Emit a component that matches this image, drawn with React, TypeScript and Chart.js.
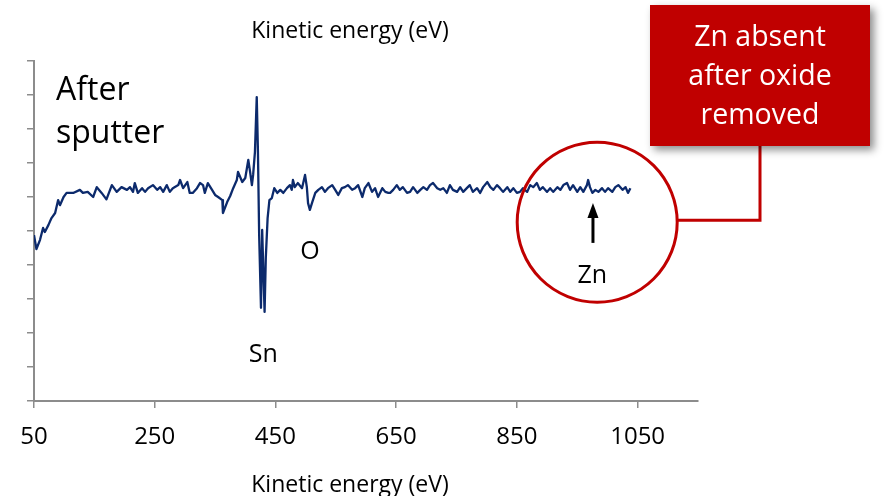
import { useEffect, useRef } from 'react';
import { Chart, registerables } from 'chart.js';

Chart.register(...registerables);

// Kinetic energy (eV)
const energy = [
  50, 54, 60, 65, 68, 74, 79, 85, 90, 93, 99, 104, 115, 126, 131, 139, 148, 154, 162, 170, 179, 187, 195, 204,
  209, 214, 217, 222, 229, 234, 239, 247, 254, 259, 264, 270, 275, 280, 289, 292, 297, 304, 308, 313, 320, 325,
  330, 333, 338, 345, 350, 355, 362, 363, 370, 375, 380, 386, 388, 395, 400, 405, 408, 411, 413, 416, 419, 421,
  423, 426, 428, 430, 432, 434, 437, 440, 444, 448, 453, 458, 463, 469, 474, 477, 479, 482, 487, 494, 499, 502,
  504, 507, 511, 516, 521, 527, 532, 537, 544, 549, 554, 560, 565, 570, 577, 582, 587, 594, 598, 604, 610, 615,
  620, 627, 632, 637, 640, 645, 651, 656, 661, 668, 673, 678, 685, 690, 695, 701, 706, 711, 718, 723, 728, 734,
  739, 744, 751, 756, 761, 767, 772, 777, 784, 789, 794, 801, 806, 811, 817, 822, 827, 834, 839, 844, 850, 855,
  860, 867, 872, 877, 883, 888, 893, 900, 905, 910, 917, 922, 927, 933, 938, 943, 950, 955, 960, 966, 968, 971,
  975, 980, 985, 991, 996, 1001, 1008, 1013, 1018, 1025, 1030, 1034, 1038,
];

// Derivative Auger signal (arbitrary units)
const signal = [
  48.8, 44.7, 47.4, 50.9, 49.7, 51.8, 53.8, 55.3, 59.1, 57.6, 60.0, 61.2, 61.2, 62.1, 61.2, 61.5, 60.0, 62.9, 61.2, 59.3, 63.5, 61.5, 62.9, 62.1,
  62.9, 61.5, 64.1, 61.2, 62.6, 61.5, 62.6, 63.5, 62.1, 62.9, 61.5, 63.5, 61.5, 62.6, 63.5, 65.0, 62.6, 64.4, 61.2, 61.2, 62.6, 64.1,
  63.5, 61.2, 64.1, 62.1, 60.6, 60.0, 59.1, 55.3, 58.5, 60.3, 62.6, 65.0, 67.4, 64.4, 65.6, 70.9, 67.4, 63.5, 66.5, 73.2, 89.4, 73.2,
  48.8, 27.4, 50.3, 37.9, 26.2, 42.1, 53.8, 59.1, 59.7, 62.6, 61.2, 62.1, 61.2, 62.6, 63.5, 62.1, 65.0, 62.9, 64.1, 62.6, 66.5, 62.9,
  58.2, 56.2, 58.5, 61.2, 62.1, 62.9, 61.5, 62.6, 63.5, 62.1, 60.6, 62.6, 62.9, 63.5, 62.1, 62.6, 63.5, 60.0, 62.6, 64.1, 61.5, 62.6,
  60.0, 62.6, 61.5, 61.2, 61.2, 62.1, 63.5, 62.1, 62.9, 61.2, 61.5, 62.9, 61.2, 62.1, 62.9, 62.1, 63.5, 64.1, 62.6, 62.1, 62.6, 61.2,
  63.5, 62.1, 61.5, 62.9, 61.5, 62.6, 63.5, 61.5, 62.6, 61.2, 62.9, 64.4, 62.9, 62.1, 63.5, 62.6, 61.5, 62.9, 61.5, 62.6, 61.2, 61.5,
  62.6, 61.5, 63.5, 62.9, 64.1, 62.1, 62.9, 61.5, 62.6, 61.5, 62.9, 62.1, 63.5, 64.1, 62.1, 63.5, 61.5, 62.9, 61.5, 63.5, 65.0, 62.9,
  61.2, 62.1, 61.5, 62.6, 61.5, 62.6, 61.5, 62.9, 63.5, 62.1, 62.9, 61.2, 62.6,
];

const xTickValues = [50, 250, 450, 650, 850, 1050];
const xMin = 50;
const xMax = 1150;
const yMin = 0;
const yMax = 100;
const yStep = 10;

const topTitle = 'Kinetic energy (eV)';
const xAxisTitle = 'Kinetic energy (eV)';
const panelLabel = ['After', 'sputter'];
const peakLabels = [
  { text: 'Sn', e: 430, v: 11.5 },
  { text: 'O', e: 507, v: 41.8 },
  { text: 'Zn', e: 975, v: 34.7 },
];
const znArrow = { e: 976, from: 46.5, to: 58.2 };
const znCircle = { e: 983, v: 52.6 };
const calloutLines = ['Zn absent', 'after oxide', 'removed'];

const RED = '#c00000';
const LINE = '#0c2a6c';
const AXIS = '#8c8c8c';
const FONT = '"Open Sans", "DejaVu Sans", sans-serif';

const annotationPlugin = {
  id: 'annotations',
  afterDraw(chart: any) {
    const ctx = chart.ctx as CanvasRenderingContext2D;
    const xs = chart.scales.x;
    const ys = chart.scales.y;
    const px = (e: number) => xs.getPixelForValue(e);
    const py = (v: number) => ys.getPixelForValue(v);

    ctx.save();
    ctx.fillStyle = '#000';
    ctx.textBaseline = 'alphabetic';

    // titles
    ctx.textAlign = 'center';
    ctx.font = `23px ${FONT}`;
    ctx.fillText(topTitle, 350, 38);
    ctx.fillText(xAxisTitle, 350, 492);

    // panel label
    ctx.textAlign = 'left';
    ctx.font = `32px ${FONT}`;
    ctx.fillText(panelLabel[0], 56, 100);
    ctx.fillText(panelLabel[1], 56, 143);

    // peak labels
    ctx.textAlign = 'center';
    ctx.font = `25px ${FONT}`;
    peakLabels.forEach((l) => ctx.fillText(l.text, px(l.e), py(l.v)));

    // arrow
    const ax = px(znArrow.e);
    const ay0 = py(znArrow.from);
    const ay1 = py(znArrow.to);
    ctx.strokeStyle = '#000';
    ctx.lineWidth = 3;
    ctx.beginPath();
    ctx.moveTo(ax, ay0);
    ctx.lineTo(ax, ay1 + 12);
    ctx.stroke();
    ctx.beginPath();
    ctx.moveTo(ax, ay1);
    ctx.lineTo(ax - 5.5, ay1 + 15);
    ctx.lineTo(ax + 5.5, ay1 + 15);
    ctx.closePath();
    ctx.fill();

    // circle
    const cx = px(znCircle.e);
    const cy = py(znCircle.v);
    const r = 80;
    ctx.strokeStyle = RED;
    ctx.lineWidth = 3;
    ctx.beginPath();
    ctx.arc(cx, cy, r, 0, Math.PI * 2);
    ctx.stroke();

    // connector
    const boxX = 650;
    const boxY = 5;
    const boxW = 220;
    const boxH = 141;
    const connX = boxX + boxW / 2;
    ctx.beginPath();
    ctx.moveTo(cx + r, cy - 2);
    ctx.lineTo(connX, cy - 2);
    ctx.lineTo(connX, boxY + boxH);
    ctx.stroke();

    // callout box
    ctx.save();
    ctx.shadowColor = 'rgba(0,0,0,0.45)';
    ctx.shadowBlur = 8;
    ctx.shadowOffsetX = 4;
    ctx.shadowOffsetY = 4;
    ctx.fillStyle = RED;
    ctx.fillRect(boxX, boxY, boxW, boxH);
    ctx.restore();

    ctx.fillStyle = '#fff';
    ctx.textAlign = 'center';
    ctx.font = `28.5px ${FONT}`;
    const baselines = [46, 85, 124];
    calloutLines.forEach((t, i) => ctx.fillText(t, connX, baselines[i]));

    ctx.restore();
  },
};

export default function App() {
  const canvasRef = useRef<HTMLCanvasElement | null>(null);

  useEffect(() => {
    if (!canvasRef.current) return;
    const chart = new Chart(canvasRef.current, {
      type: 'line',
      data: {
        datasets: [
          {
            data: energy.map((e, i) => ({ x: e, y: signal[i] })),
            borderColor: LINE,
            borderWidth: 2.3,
            pointRadius: 0,
            tension: 0,
            fill: false,
            borderJoinStyle: 'round',
          },
        ],
      },
      options: {
        animation: false,
        responsive: false,
        devicePixelRatio: 1,
        layout: { padding: { left: 0, top: 61, right: 196, bottom: 0 } },
        plugins: {
          legend: { display: false },
          title: { display: false },
          tooltip: { enabled: false },
        },
        scales: {
          x: {
            type: 'linear',
            min: xMin,
            max: xMax,
            afterBuildTicks: (scale: any) => {
              scale.ticks = xTickValues.map((v) => ({ value: v }));
            },
            afterFit: (scale: any) => {
              scale.height = 95;
            },
            grid: {
              drawOnChartArea: false,
              drawTicks: true,
              tickLength: 7,
              color: AXIS,
              lineWidth: 1.5,
            },
            border: { display: true, color: AXIS, width: 2 },
            ticks: {
              color: '#000',
              padding: 15,
              maxRotation: 0,
              autoSkip: false,
              font: { family: FONT, size: 24 },
              callback: (v: any) => String(v),
            },
          },
          y: {
            type: 'linear',
            min: yMin,
            max: yMax,
            afterFit: (scale: any) => {
              scale.width = 34;
            },
            grid: {
              drawOnChartArea: false,
              drawTicks: true,
              tickLength: 7,
              color: AXIS,
              lineWidth: 1.5,
            },
            border: { display: true, color: AXIS, width: 2 },
            ticks: { display: false, stepSize: yStep },
          },
        },
      },
      plugins: [annotationPlugin],
    });
    if ((document as any).fonts && (document as any).fonts.load) {
      (document as any).fonts.load(`20px "Open Sans"`).then(() => chart.update()).catch(() => {});
    }
    return () => chart.destroy();
  }, []);

  return (
    <div style={{ position: 'fixed', left: 0, top: 0, width: 894, height: 496, background: '#fff' }}>
      <canvas ref={canvasRef} width={894} height={496} />
    </div>
  );
}
